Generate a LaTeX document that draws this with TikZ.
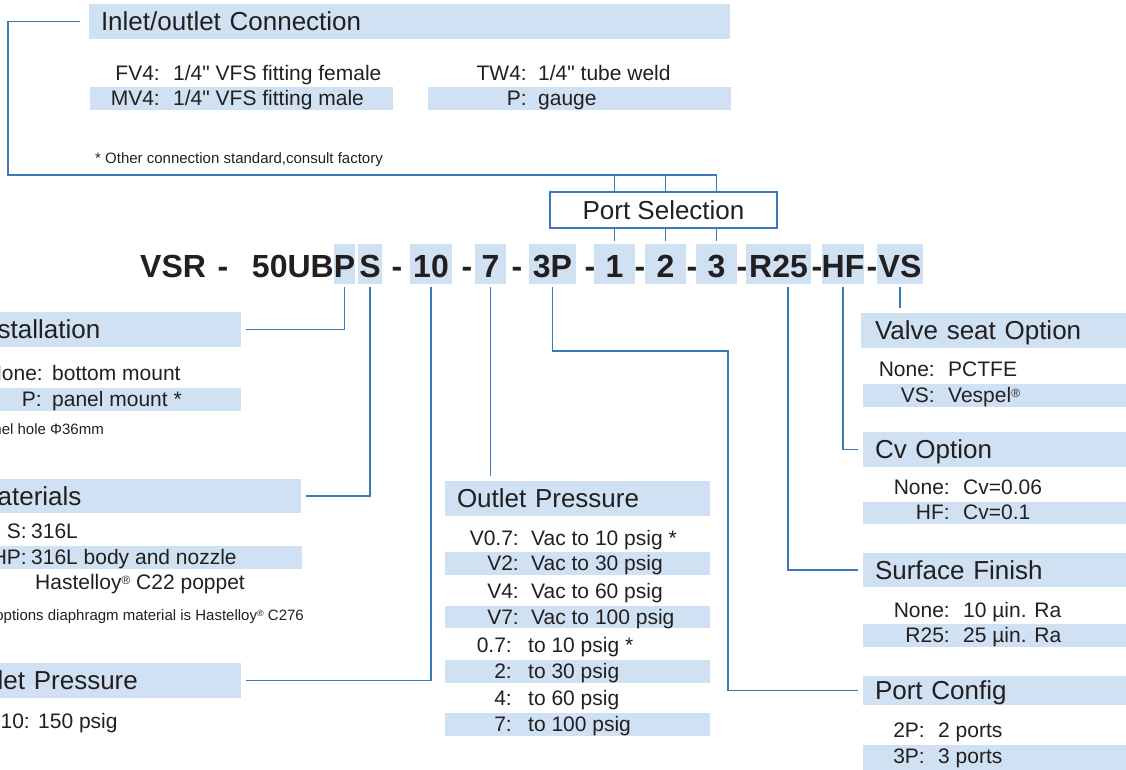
\documentclass[tikz,border=0pt]{standalone}
\usepackage{fontspec}
\setmainfont{Liberation Sans}[Ligatures=TeXOff]
\definecolor{ink}{HTML}{231F20}
\definecolor{band}{HTML}{CFE1F2}
\definecolor{wireblue}{HTML}{3D79B6}
\newcommand{\fsz}[1]{\fontsize{#1}{#1}\selectfont}
\begin{document}
\begin{tikzpicture}[x=1pt,y=-1pt,
  link/.style={draw=wireblue,line width=1.6pt},
  headbox/.style={fill=band,text=ink,font=\fsz{26},inner xsep=12pt,inner ysep=0pt,text height=18.6pt,text depth=0pt,align=left,outer sep=5pt},
  codeseg/.style={fill=band,text=ink,font=\fsz{32}\bfseries,inner sep=0pt,minimum height=40pt,text height=26pt,text depth=0pt,outer ysep=3pt},
  codetxt/.style={text=ink,font=\fsz{32}\bfseries,inner sep=0pt,anchor=base},
  optkey/.style={text=ink,font=\fsz{21},inner sep=0pt,anchor=base east},
  optval/.style={text=ink,font=\fsz{21},inner sep=0pt,anchor=base west},
  notetxt/.style={text=ink,font=\fsz{15},inner sep=0pt}]
\useasboundingbox (0,0) rectangle (1126,769);
\clip (0,0) rectangle (1126,769);
% option bands
\fill[band] (90,87) rectangle (393,110);
\fill[band] (428,87) rectangle (731,110);
\fill[band] (-40,388) rectangle (241,411);
\fill[band] (-40,546) rectangle (302,569);
\fill[band] (445,552) rectangle (710,575);
\fill[band] (445,606) rectangle (710,628);
\fill[band] (445,660) rectangle (710,683);
\fill[band] (445,713) rectangle (710,736);
\fill[band] (863,384) rectangle (1140,407);
\fill[band] (863,502) rectangle (1140,524);
\fill[band] (863,624) rectangle (1140,647);
\fill[band] (863,745) rectangle (1140,772);
% headings
\node[headbox,text width=617pt,minimum height=35pt,outer xsep=9pt] (iocon) at (409.5,21.5) {Inlet/outlet Connection};
\node[headbox,text width=253pt,minimum height=35pt] (install) at (102.5,329.5) {Installation};
\node[headbox,text width=313pt,minimum height=34pt] (mater) at (132.5,496) {Materials};
\node[headbox,text width=253pt,minimum height=35pt] (inlet) at (102.5,680.5) {Inlet Pressure};
\node[headbox,text width=241pt,minimum height=35pt] (outp) at (577.5,498.5) {Outlet Pressure};
\node[headbox,text width=251pt,minimum height=35pt,inner xsep=14pt] (valve) at (1000.5,330.5) {Valve seat Option};
\node[headbox,text width=251pt,minimum height=35pt] (cvopt) at (1000.5,449.5) {Cv Option};
\node[headbox,text width=251pt,minimum height=34pt] (surf) at (1000.5,570) {Surface Finish};
\node[headbox,text width=251pt,minimum height=29pt] (pconf) at (1000.5,690.5) {Port Config};
\node[draw=wireblue,line width=1.6pt,fill=white,text=ink,font=\fsz{26},inner sep=0pt,minimum width=227pt,minimum height=36pt,text height=18.6pt,text depth=0pt] (psel) at (663.5,210) {Port Selection};
% model code
\node[codetxt,anchor=base west] (vsr) at (140,277) {VSR};
\node[codetxt] (d1) at (223,277) {-};
\node[codetxt,anchor=base east] (ub) at (334,277) {50UB};
\node[codeseg,minimum width=21pt] (cP) at (344.5,264) {P};
\node[codeseg,minimum width=24pt] (cS) at (370,264) {S};
\node[codetxt] (d2) at (397,277) {-};
\node[codeseg,minimum width=42pt] (c10) at (431,264) {10};
\node[codetxt] (d3) at (467,277) {-};
\node[codeseg,minimum width=31pt] (c7) at (490.5,264) {7};
\node[codetxt] (d4) at (517,277) {-};
\node[codeseg,minimum width=47pt] (c3P) at (552.5,264) {3P};
\node[codetxt] (d5) at (590,277) {-};
\node[codeseg,minimum width=41pt] (c1) at (614.5,264) {1};
\node[codetxt] (d6) at (640,277) {-};
\node[codeseg,minimum width=41pt] (c2) at (665.5,264) {2};
\node[codetxt] (d7) at (692,277) {-};
\node[codeseg,minimum width=41pt] (c3) at (716.5,264) {3};
\node[codetxt] (d8) at (742,277) {-};
\node[codeseg,minimum width=65pt] (cR) at (778.5,264) {R25};
\node[codetxt] (d9) at (817,277) {-};
\node[codeseg,minimum width=42pt] (cHF) at (843,264) {HF};
\node[codetxt] (d10) at (872,277) {-};
\node[codeseg,minimum width=46pt] (cVS) at (900,264) {VS};
% inlet/outlet connection
\node[optkey] (fv4k) at (160,80) {FV4:};
\node[optval] (fv4v) at (173,80) {1/4" VFS fitting female};
\node[optkey] (mv4k) at (160,105) {MV4:};
\node[optval] (mv4v) at (173,105) {1/4" VFS fitting male};
\node[optkey] (tw4k) at (527,80) {TW4:};
\node[optval] (tw4v) at (538,80) {1/4" tube weld};
\node[optkey] (gak) at (527,105) {P:};
\node[optval] (gav) at (538,105) {gauge};
\node[notetxt,anchor=base west] (ionote) at (95,163) {* Other connection standard,consult factory};
% installation
\node[optkey] (bmk) at (43,380) {None:};
\node[optval] (bmv) at (52,380) {bottom mount};
\node[optkey] (pmk) at (42,406) {P:};
\node[optval] (pmv) at (52,406) {panel mount *};
\node[notetxt,anchor=base east] (pmnote) at (104,434) {* Panel hole Φ36mm};
% materials
\node[optkey] (ssk) at (27,538) {S:};
\node[optval] (ssv) at (31,538) {316L};
\node[optkey] (hpk) at (27,564) {HP:};
\node[optval] (hpv) at (31,564) {316L body and nozzle};
\node[optval] (hpv2) at (35,589) {Hastelloy\raisebox{5pt}{\fsz{12}®} C22 poppet};
\node[notetxt,anchor=base east] (hpnote) at (304,620) {* HP options diaphragm material is Hastelloy\raisebox{4pt}{\fsz{9}®} C276};
% inlet pressure
\node[optkey] (ipk) at (30,728) {10:};
\node[optval] (ipv) at (38,728) {150 psig};
% outlet pressure
\node[optkey] (ov07k) at (519,545) {V0.7:};
\node[optval] (ov07v) at (531,545) {Vac to 10 psig *};
\node[optkey] (ov2k) at (519,570) {V2:};
\node[optval] (ov2v) at (531,570) {Vac to 30 psig};
\node[optkey] (ov4k) at (519,598) {V4:};
\node[optval] (ov4v) at (531,598) {Vac to 60 psig};
\node[optkey] (ov7k) at (519,624) {V7:};
\node[optval] (ov7v) at (531,624) {Vac to 100 psig};
\node[optkey] (o07k) at (512,652) {0.7:};
\node[optval] (o07v) at (528,652) {to 10 psig *};
\node[optkey] (o2k) at (512,678) {2:};
\node[optval] (o2v) at (528,678) {to 30 psig};
\node[optkey] (o4k) at (512,705) {4:};
\node[optval] (o4v) at (528,705) {to 60 psig};
\node[optkey] (o7k) at (512,731) {7:};
\node[optval] (o7v) at (528,731) {to 100 psig};
% valve seat
\node[optkey] (vnk) at (935,376) {None:};
\node[optval] (vnv) at (948,376) {PCTFE};
\node[optkey] (vsk) at (935,402) {VS:};
\node[optval] (vsv) at (948,402) {Vespel\raisebox{5pt}{\fsz{12}®}};
% cv
\node[optkey] (cnk) at (950,494) {None:};
\node[optval] (cnv) at (963,494) {Cv=0.06};
\node[optkey] (chk) at (950,519) {HF:};
\node[optval] (chv) at (963,519) {Cv=0.1};
% surface finish
\node[optkey] (snk) at (950,617) {None:};
\node[optval] (snv) at (963,617) {10 µin. Ra};
\node[optkey] (srk) at (950,642) {R25:};
\node[optval] (srv) at (963,642) {25 µin. Ra};
% port config
\node[optkey] (p2k) at (925,737) {2P:};
\node[optval] (p2v) at (938,737) {2 ports};
\node[optkey] (p3k) at (925,763) {3P:};
\node[optval] (p3v) at (938,763) {3 ports};
% connectors
\coordinate (iobend) at (8,175); % lower left corner
\coordinate (pcjog) at (728,351);
\draw[link] (iocon.west) -| (iobend) -- (iobend -| c3) -- (c3 |- psel.north);
\draw[link] (iobend -| c1) -- (c1 |- psel.north);
\draw[link] (iobend -| c2) -- (c2 |- psel.north);
\draw[link] (c1 |- psel.south) -- (c1.north);
\draw[link] (c2 |- psel.south) -- (c2.north);
\draw[link] (c3 |- psel.south) -- (c3.north);
\draw[link] (cP.south) |- (install.east);
\draw[link] (cS.south) |- (mater.east);
\draw[link] (c10.south) |- (inlet.east);
\draw[link] (c7.south) -- (c7 |- outp.north);
\draw[link] (c3P.south) |- (pcjog) |- (pconf.west);
\draw[link] ([xshift=9.5pt]cR.south) |- (surf.west);
\draw[link] (cHF.south) |- (cvopt.west);
\draw[link] (cVS.south) -- (cVS |- valve.north);
\end{tikzpicture}
\end{document}
